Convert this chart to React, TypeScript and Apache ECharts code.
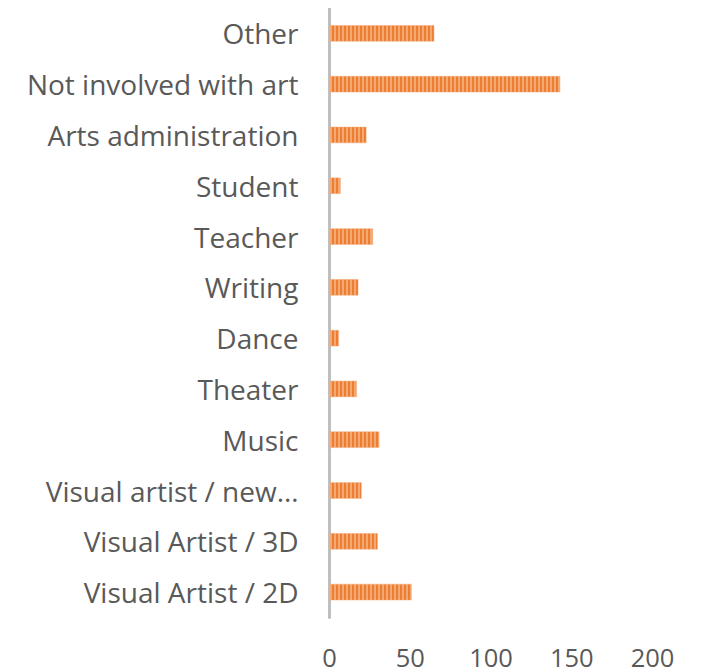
import React, { useEffect, useRef } from "react";
import * as echarts from "echarts";

const categories = [
  "Visual Artist / 2D",
  "Visual Artist / 3D",
  "Visual artist / new…",
  "Music",
  "Theater",
  "Dance",
  "Writing",
  "Teacher",
  "Student",
  "Arts administration",
  "Not involved with art",
  "Other",
];
const values = [51, 30, 20, 31, 17, 6, 18, 27, 7, 23, 143, 65];
const xTicks = [0, 50, 100, 150, 200];

function makePattern(): HTMLCanvasElement {
  const c = document.createElement("canvas");
  c.width = 4;
  c.height = 4;
  const ctx = c.getContext("2d")!;
  ctx.fillStyle = "#F4A873";
  ctx.fillRect(0, 0, 4, 4);
  ctx.fillStyle = "#ED7D31";
  ctx.fillRect(0, 0, 2, 4);
  return c;
}

export default function App() {
  const ref = useRef<HTMLDivElement>(null);
  useEffect(() => {
    if (!ref.current) return;
    const chart = echarts.init(ref.current, null, { renderer: "svg" });
    const font = "'Open Sans', sans-serif";
    chart.setOption({
      animation: false,
      grid: { left: 321.5, right: 46.5, top: 0, bottom: 54.5, containLabel: false },
      xAxis: {
        type: "value",
        min: xTicks[0],
        max: xTicks[xTicks.length - 1],
        interval: 50,
        splitLine: { show: false },
        axisLine: { show: false },
        axisTick: { show: false },
        axisLabel: { color: "#595959", fontSize: 25.5, fontFamily: font, margin: 26 },
      },
      yAxis: {
        type: "category",
        data: categories,
        axisLine: { show: true, lineStyle: { color: "#BFBFBF", width: 3 } },
        axisTick: { show: false },
        axisLabel: { color: "#595959", fontSize: 28, fontFamily: font, margin: 31 },
      },
      series: [
        {
          type: "bar",
          data: values,
          barWidth: "33%",
          itemStyle: {
            color: { image: makePattern(), repeat: "repeat" },
            borderColor: "rgba(244,168,115,0.5)",
            borderWidth: 1,
          },
        },
      ],
    });
    return () => chart.dispose();
  }, []);
  return <div ref={ref} style={{ width: 691, height: 664 }} />;
}
